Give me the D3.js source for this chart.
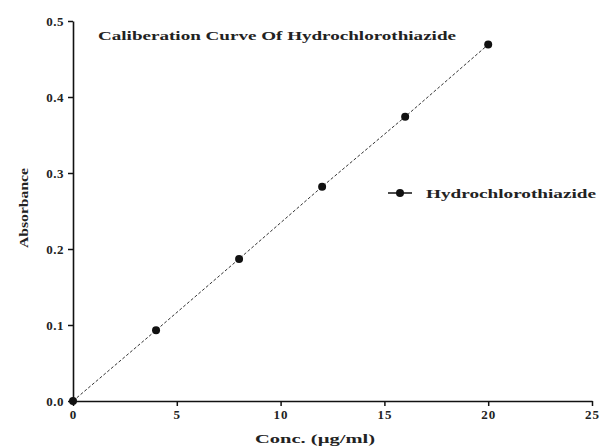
<!DOCTYPE html>
<html><head><meta charset="utf-8">
<script src="https://cdn.jsdelivr.net/npm/d3@7"></script>
<style>body{margin:0;background:#fff}svg text{font-family:"Liberation Serif","DejaVu Serif",serif;font-weight:bold;fill:#222}</style>
</head><body><svg id="c" width="605" height="447"></svg>
<script>
const conc = [0, 4, 8, 12, 16, 20];
const absorbance = [0, 0.093, 0.187, 0.282, 0.374, 0.469];
const xTicks = [0, 5, 10, 15, 20, 25];
const yTicks = [0.0, 0.1, 0.2, 0.3, 0.4, 0.5];
const seriesName = "Hydrochlorothiazide";
const title = "Caliberation Curve Of Hydrochlorothiazide";

const svg = d3.select("#c");
const x = d3.scaleLinear().domain([0, 25]).range([73, 592]);
const y = d3.scaleLinear().domain([0, 0.5]).range([401, 21]);

const xa = svg.append("g").attr("transform", "translate(0,401)")
  .call(d3.axisBottom(x).tickValues(xTicks).tickFormat(d3.format("d")).tickSize(5).tickSizeOuter(0));
xa.select(".domain").attr("stroke", "#111").attr("stroke-width", 1.6);
xa.selectAll(".tick line").attr("stroke", "#111").attr("stroke-width", 1.5);
xa.selectAll(".tick text").attr("font-size", 13).attr("dy", "0.71em").attr("y", 9).attr("fill", "#222").attr("letter-spacing", 1);

const ya = svg.append("g").attr("transform", "translate(73,0)")
  .call(d3.axisLeft(y).tickValues(yTicks).tickFormat(d3.format(".1f")).tickSize(5).tickSizeOuter(0));
ya.select(".domain").attr("stroke", "#111").attr("stroke-width", 1.6);
ya.selectAll(".tick line").attr("stroke", "#111").attr("stroke-width", 1.5);
ya.selectAll(".tick text").attr("font-size", 13).attr("x", -9).attr("fill", "#222").attr("letter-spacing", 0.5);

const pts = conc.map((c, i) => [c, absorbance[i]]);
svg.append("path").datum(pts)
  .attr("d", d3.line().x(d => x(d[0])).y(d => y(d[1])))
  .attr("fill", "none").attr("stroke", "#333").attr("stroke-width", 1).attr("stroke-dasharray", "3,2");
svg.selectAll("circle.pt").data(pts).join("circle").attr("class", "pt")
  .attr("cx", d => x(d[0])).attr("cy", d => y(d[1])).attr("r", 4).attr("fill", "#111");

svg.append("text").attr("x", 98).attr("y", 40).attr("font-size", 13).attr("textLength", 358).attr("lengthAdjust", "spacingAndGlyphs").text(title);

// legend
svg.append("line").attr("x1", 388).attr("x2", 412).attr("y1", 193).attr("y2", 193).attr("stroke", "#111").attr("stroke-width", 1.5);
svg.append("circle").attr("cx", 400).attr("cy", 193).attr("r", 4).attr("fill", "#111");
svg.append("text").attr("x", 426).attr("y", 198).attr("font-size", 13.5).attr("textLength", 170).attr("lengthAdjust", "spacingAndGlyphs").text(seriesName);

svg.append("text").attr("x", 255).attr("y", 443).attr("font-size", 13.5).attr("textLength", 120).attr("lengthAdjust", "spacingAndGlyphs").text("Conc. (µg/ml)");
svg.append("text").attr("transform", "translate(28,208) rotate(-90)").attr("text-anchor", "middle").attr("font-size", 12).attr("textLength", 80).attr("lengthAdjust", "spacingAndGlyphs").text("Absorbance");
</script></body></html>
